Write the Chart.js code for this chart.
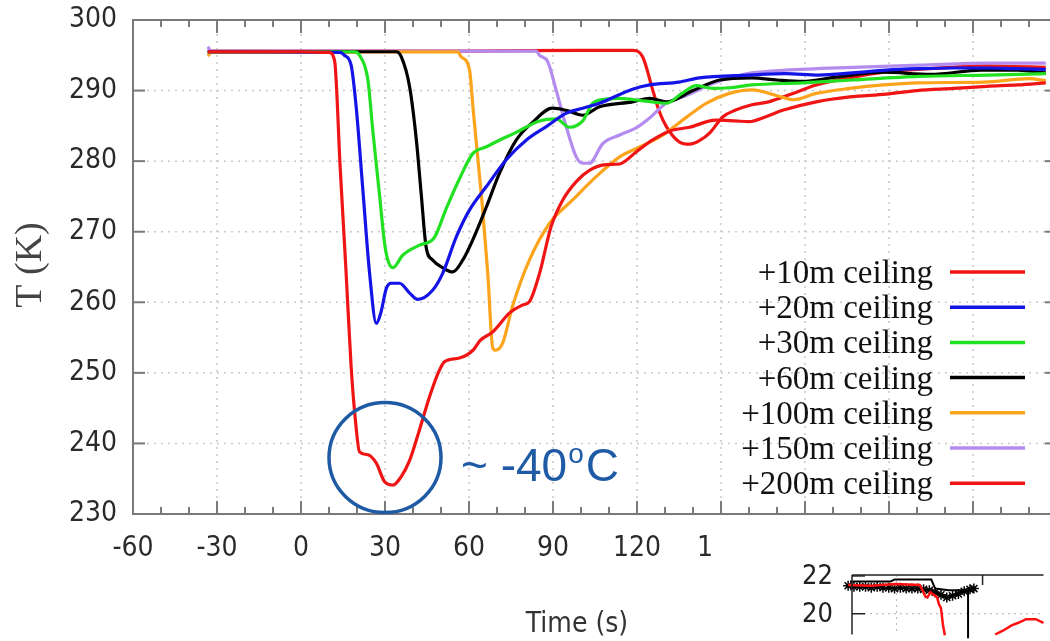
<!DOCTYPE html>
<html>
<head>
<meta charset="utf-8">
<script src="https://cdn.jsdelivr.net/npm/chart.js@4"></script>
<style>
  html, body { margin: 0; padding: 0; background: #fff; overflow: hidden; }
  #wrap { position: relative; width: 1050px; height: 641px; overflow: hidden; }
  #main { position: absolute; left: 0; top: 0; }
  #inset { position: absolute; left: 713px; top: 533px; background: #fff; }
</style>
</head>
<body>
<div id="wrap">
  <canvas id="main" width="1062" height="641"></canvas>
  <canvas id="inset" width="337" height="108"></canvas>
</div>
<script>
// main panel: temperature at the ceiling, time in s, T in K
const labels = ['+10m ceiling', '+20m ceiling', '+30m ceiling', '+60m ceiling', '+100m ceiling', '+150m ceiling', '+200m ceiling'];
const colors = ['#f01515', '#1414e6', '#22e022', '#000000', '#fca41c', '#b48cf0', '#f01515'];

const t10 = [-33.3, 0, 10, 12, 14, 16, 17.9, 19.5, 20.9, 23.9, 26.9, 29.8, 32.8, 35.8, 38.8, 42.3, 45.9, 48.9, 51.3, 56.6, 61.4, 64, 68.5, 74.5, 79, 81.6, 85.2, 89.3, 93.5, 98.3, 103, 109, 113.8, 119.7, 125.6, 132, 138.8, 148, 155, 160, 166, 172, 184, 196, 209, 220, 233, 245, 256, 266];
const k10 = [295.5, 295.5, 295.4, 294.2, 279, 265, 250.9, 243, 238.8, 238.4, 237.2, 234.6, 234.1, 235.3, 237.6, 241.9, 246.6, 249.9, 251.6, 252.1, 253.2, 254.6, 255.8, 258.5, 259.6, 260.1, 264.1, 270.7, 274.5, 277.1, 278.7, 279.5, 279.6, 281.3, 283, 284.3, 284.8, 285.8, 285.7, 285.6, 286.3, 287.2, 288.4, 289.1, 289.5, 290, 290.3, 290.6, 290.8, 291.1];

const t20 = [-33.3, 14, 15.5, 17.9, 19.7, 22.1, 24.5, 26.9, 28.5, 30.5, 32.2, 35.2, 38.8, 41.7, 47, 50.6, 55.5, 60.2, 66.2, 73.3, 80.5, 87.6, 94.8, 100.6, 106.6, 118.4, 124.5, 135, 142.3, 160, 173, 185, 197, 209, 221, 233, 245, 255, 266];
const k20 = [295.5, 295.4, 295, 293.6, 287.7, 275.9, 264.1, 257, 258.5, 262, 262.7, 262.7, 261.3, 260.4, 261.7, 264.1, 269.3, 273.1, 276.4, 280.2, 283, 284.9, 286.8, 287.5, 288.2, 290.2, 290.8, 291.2, 291.8, 292.2, 292.4, 292.2, 292.5, 292.9, 293.1, 293.2, 293.2, 293.1, 293];

const t30 = [-33.3, 19, 20.9, 23.9, 25.6, 28, 29.8, 31, 32.8, 36.4, 42.3, 47.5, 51.9, 56.6, 61.4, 66, 71, 76.5, 85.2, 91.2, 95.9, 100.6, 104.2, 109, 113.8, 123, 130.5, 136, 141.2, 147, 153, 161, 179, 197, 221, 245, 266];
const k30 = [295.5, 295.5, 295, 291.5, 284.5, 275.4, 268.5, 266, 264.9, 266.7, 268.1, 269.1, 273.3, 277.5, 281.1, 282, 283, 284, 285.7, 286, 284.8, 285.7, 288.2, 288.8, 288.9, 288.5, 288.2, 289.6, 290.7, 290.3, 290.4, 290.8, 291.1, 291.5, 292, 292.2, 292.4];

const t60 = [-33.3, 34, 35.8, 38.8, 41.2, 42.9, 44.7, 47, 50.6, 54.2, 57.8, 61.3, 66.2, 70.9, 76.9, 82.7, 89.8, 94.7, 100.6, 106.6, 118.4, 124.5, 130.5, 140, 149.5, 161, 170, 179, 191, 208, 225, 243, 256, 266];
const k60 = [295.5, 295.5, 294.8, 290.5, 283, 275.5, 267.8, 266, 264.9, 264.3, 266, 268.8, 273.5, 278.3, 283, 285.5, 287.5, 287.2, 286.5, 287.7, 288.4, 288.9, 288.4, 290, 291.5, 291.8, 291.5, 291.3, 291.9, 292.6, 292.3, 292.9, 292.9, 292.5];

const t100 = [-33.3, -32, 56, 57.2, 60.2, 61.4, 63.1, 64.8, 66.7, 68.5, 69.5, 72, 75.6, 81.6, 88.8, 97, 105.4, 113.8, 120.9, 129.2, 137.6, 144.7, 153, 161, 169.8, 176, 184, 196, 208, 220, 244, 260, 266];
const k100 = [294.9, 295.4, 295.5, 294.8, 292.9, 287.7, 280.6, 273.5, 264.1, 253.5, 253.2, 254.2, 259.5, 266, 271.2, 274.5, 277.8, 280.6, 282, 283.7, 286.2, 288.2, 289.6, 290.1, 289.3, 288.7, 289.6, 290.3, 290.8, 291.1, 291.2, 291.7, 291.4];

const t150 = [-33.3, -32, 84, 85.2, 88.1, 91.1, 94.7, 98.3, 100.6, 103, 107.8, 113.8, 119.7, 124.5, 130.4, 137.6, 147, 153, 161, 173, 197, 221, 245, 266];
const k150 = [296.2, 295.6, 295.6, 295, 294.1, 290.1, 284.9, 280.6, 279.7, 279.7, 282.5, 283.7, 284.7, 286.1, 288.2, 289.3, 291, 291.8, 292.5, 292.9, 293.3, 293.6, 293.9, 293.9];

const t200 = [-33.3, 0, 60, 100, 118.4, 122, 125.6, 128, 130.5, 135.2, 138.8, 142.3, 146, 150.7, 155, 161, 167, 175.7, 184, 196, 208, 220, 232, 244, 255, 266];
const k200 = [295.6, 295.6, 295.6, 295.7, 295.7, 294.8, 290.1, 287, 284.9, 282.7, 282.4, 282.9, 284, 286.3, 287.2, 288, 288.4, 289.6, 290.8, 291.8, 292.6, 293, 293.3, 293.5, 293.4, 293.3];

const times = [t10, t20, t30, t60, t100, t150, t200];
const temps = [k10, k20, k30, k60, k100, k150, k200];

const xTicks = [-60, -30, 0, 30, 60, 90, 120, 150, 180, 210, 240, 270];
const yTicks = [230, 240, 250, 260, 270, 280, 290, 300];

// inset fragment (bottom right, partly hidden)
const insetStarX = [-4, 2, 8, 14, 20, 26, 32, 38, 44, 50, 56, 62, 68, 74, 80, 86, 92, 98, 104, 110, 116, 122, 126];
const insetStarY = [21.48, 21.43, 21.43, 21.43, 21.38, 21.43, 21.38, 21.38, 21.33, 21.38, 21.33, 21.33, 21.33, 21.29, 21.24, 21.14, 21.0, 20.86, 20.95, 21.05, 21.19, 21.29, 21.33];
const insetBlackX = [-2, 40, 44, 82, 86, 100, 120, 120];
const insetBlackY = [21.71, 21.71, 21.81, 21.81, 21.33, 21.24, 21.24, 18.7];
const insetRedX = [-4, 20, 45, 70, 73, 76, 78, 81, 83, 86, 88, 90, 92, 94, 96];
const insetRedY = [21.52, 21.48, 21.57, 21.52, 21.24, 20.9, 20.86, 21.14, 21.05, 20.95, 20.86, 20.48, 20.29, 19.43, 18.86];
const insetRed2X = [148, 156, 165, 172, 180, 190, 198];
const insetRed2Y = [18.9, 19.1, 19.38, 19.52, 19.71, 19.71, 19.52];
const insetTicks = [20, 22];

const pts = (xs, ys) => xs.map((v, i) => ({ x: v, y: ys[i] }));
const tickFont = "'DejaVu Sans Condensed', 'Liberation Sans Narrow', 'DejaVu Sans', sans-serif";
const blue = '#1f5aa5';

function seg(ctx, x1, y1, x2, y2) {
  ctx.beginPath(); ctx.moveTo(x1, y1); ctx.lineTo(x2, y2); ctx.stroke();
}

const decor = {
  id: 'decor',
  beforeDatasetsDraw(chart) {
    const { ctx, chartArea: a, scales: { x, y } } = chart;
    ctx.save();
    ctx.strokeStyle = '#c8c8c8';
    ctx.lineWidth = 1.5;
    ctx.setLineDash([2, 5]);
    xTicks.slice(1, -1).forEach(v => { const p = x.getPixelForValue(v); seg(ctx, p, a.top, p, a.bottom); });
    yTicks.slice(1, -1).forEach(v => { const p = y.getPixelForValue(v); seg(ctx, a.left, p, a.right, p); });
    ctx.restore();
  },
  afterDatasetsDraw(chart) {
    const { ctx, chartArea: a, scales: { x, y } } = chart;
    ctx.save();
    // frame + inward ticks
    ctx.strokeStyle = '#7a7a7a';
    ctx.lineWidth = 2;
    ctx.strokeRect(a.left, a.top, a.right - a.left, a.bottom - a.top);
    for (let v = -60; v <= 270; v += 10) {
      const p = x.getPixelForValue(v);
      const len = v % 30 === 0 ? 13 : 7;
      seg(ctx, p, a.bottom, p, a.bottom - len);
      seg(ctx, p, a.top, p, a.top + len);
    }
    yTicks.forEach(v => {
      const p = y.getPixelForValue(v);
      seg(ctx, a.left, p, a.left + 12, p);
      seg(ctx, a.right, p, a.right - 12, p);
    });

    // legend
    ctx.font = "33px 'Liberation Serif', 'Times New Roman', serif";
    ctx.textAlign = 'right';
    ctx.textBaseline = 'alphabetic';
    chart.data.datasets.forEach((ds, i) => {
      const yy = 272 + i * 35.2;
      ctx.fillStyle = '#111';
      ctx.fillText(ds.label, 933, yy + 11);
      ctx.strokeStyle = ds.borderColor;
      ctx.lineWidth = 3.5;
      seg(ctx, 950, yy, 1025, yy);
    });

    // axis titles
    ctx.fillStyle = '#333';
    ctx.textAlign = 'center';
    ctx.font = "28px " + tickFont;
    ctx.fillText('Time (s)', 577, 632);
    ctx.save();
    ctx.translate(41, 265);
    ctx.rotate(-Math.PI / 2);
    ctx.font = "38px 'Liberation Serif', 'Times New Roman', serif";
    ctx.fillStyle = '#444';
    ctx.fillText('T (K)', 0, 0);
    ctx.restore();

    // annotation around the minimum
    const cx = x.getPixelForValue(30), cy = y.getPixelForValue(238);
    ctx.strokeStyle = blue;
    ctx.lineWidth = 3.5;
    ctx.beginPath();
    ctx.ellipse(cx, cy, 56, 55, 0, 0, Math.PI * 2);
    ctx.stroke();
    ctx.fillStyle = blue;
    ctx.textAlign = 'left';
    ctx.font = "46px 'Liberation Sans', Arial, sans-serif";
    ctx.fillText('~ -40', 461, 481);
    const w = ctx.measureText('~ -40').width;
    ctx.font = "28px 'Liberation Sans', Arial, sans-serif";
    ctx.fillText('o', 461 + w + 1, 463);
    const w2 = ctx.measureText('o').width;
    ctx.font = "46px 'Liberation Sans', Arial, sans-serif";
    ctx.fillText('C', 461 + w + w2 + 3, 481);
    ctx.restore();
  }
};

new Chart(document.getElementById('main'), {
  type: 'line',
  data: {
    datasets: labels.map((lab, i) => ({
      label: lab,
      data: pts(times[i], temps[i]),
      borderColor: colors[i],
      borderWidth: 3.2,
      pointRadius: 0,
      cubicInterpolationMode: 'monotone',
      fill: false
    }))
  },
  options: {
    responsive: false,
    animation: false,
    layout: { padding: { left: 0, right: 5, top: 20, bottom: 0 } },
    plugins: { legend: { display: false }, tooltip: { enabled: false } },
    scales: {
      x: {
        type: 'linear', min: -60, max: 270,
        afterFit: s => { s.height = 127; s.paddingLeft = 0; s.paddingRight = 0; },
        afterBuildTicks: s => { s.ticks = xTicks.map(v => ({ value: v })); },
        grid: { display: false, drawTicks: false },
        border: { display: false },
        ticks: { padding: 18, color: '#2a2a2a', font: { family: tickFont, size: 28 } }
      },
      y: {
        min: 230, max: 300,
        afterFit: s => { s.width = 133; s.paddingTop = 0; s.paddingBottom = 0; },
        afterBuildTicks: s => { s.ticks = yTicks.map(v => ({ value: v })); },
        grid: { display: false, drawTicks: false },
        border: { display: false },
        ticks: { padding: 16, color: '#2a2a2a', font: { family: tickFont, size: 28 } }
      }
    }
  },
  plugins: [decor]
});

const insetDecor = {
  id: 'insetDecor',
  beforeDatasetsDraw(chart) {
    const { ctx, chartArea: a, scales: { x, y } } = chart;
    ctx.save();
    ctx.strokeStyle = '#bdbdbd';
    ctx.lineWidth = 1.2;
    ctx.setLineDash([2, 4]);
    const gx = x.getPixelForValue(46);
    seg(ctx, gx, a.top, gx, a.bottom);
    const gy = y.getPixelForValue(20);
    seg(ctx, a.left, gy, a.right, gy);
    ctx.restore();
  },
  afterDatasetsDraw(chart) {
    const { ctx, chartArea: a, scales: { x, y } } = chart;
    ctx.save();
    ctx.strokeStyle = '#222';
    ctx.lineWidth = 1.5;
    seg(ctx, a.left, a.top, a.right, a.top);
    seg(ctx, a.left, a.top, a.left, a.bottom);
    const tx = x.getPixelForValue(135);
    seg(ctx, tx, a.top, tx, a.top + 10);
    ctx.fillStyle = '#222';
    ctx.font = "27px " + tickFont;
    ctx.textAlign = 'right';
    ctx.textBaseline = 'middle';
    insetTicks.forEach(v => {
      const p = y.getPixelForValue(v);
      seg(ctx, a.left, p, a.left + 13, p);
      ctx.fillText(String(v), a.left - 19, p + 1);
    });
    ctx.restore();
  }
};

new Chart(document.getElementById('inset'), {
  type: 'line',
  data: {
    datasets: [
      { data: pts(insetRedX, insetRedY), borderColor: '#ff1010', borderWidth: 2.5, pointRadius: 0, clip: 8 },
      { data: pts(insetRed2X, insetRed2Y), borderColor: '#ff1010', borderWidth: 2.5, pointRadius: 0, clip: 8 },
      { data: pts(insetBlackX, insetBlackY), borderColor: '#000', borderWidth: 2, pointRadius: 0, clip: 8 },
      { data: pts(insetStarX, insetStarY), borderColor: '#000', borderWidth: 2, pointStyle: 'star', pointRadius: 5, pointBorderWidth: 1.5, pointBorderColor: '#000', clip: 10 }
    ]
  },
  options: {
    responsive: false,
    animation: false,
    layout: { padding: { left: 139, top: 42, right: 0, bottom: 0 } },
    plugins: { legend: { display: false }, tooltip: { enabled: false } },
    scales: {
      x: { type: 'linear', min: 0, max: 198, display: false },
      y: { min: 18.9, max: 22.05, display: false }
    }
  },
  plugins: [insetDecor]
});
</script>
</body>
</html>
